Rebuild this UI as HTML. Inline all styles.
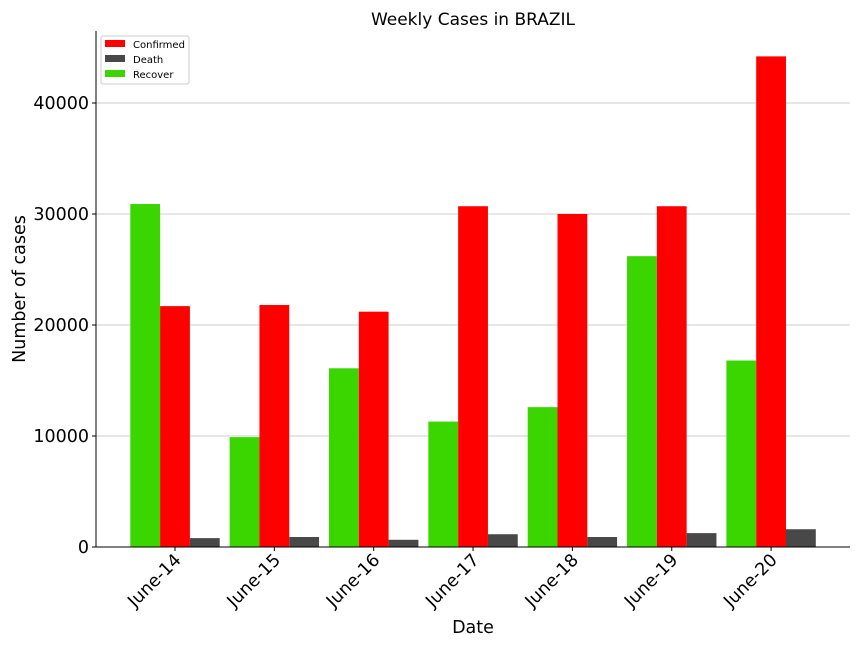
<!DOCTYPE html>
<html><head><meta charset="utf-8"><style>
body{margin:0;background:#fff;font-family:"Liberation Sans","DejaVu Sans",sans-serif}
svg text{font-family:"DejaVu Sans","Liberation Sans",sans-serif}
</style></head><body>
<svg id="chart" width="864" height="648" xmlns="http://www.w3.org/2000/svg">
<rect width="864" height="648" fill="#fff"/>
<text x="473" y="25" font-size="17" text-anchor="middle" fill="#000">Weekly Cases in BRAZIL</text>
<g id="grid"></g><g id="bars"></g><g id="axes"></g>
<text x="473" y="633" font-size="17.5" text-anchor="middle">Date</text>
<text transform="translate(25,289) rotate(-90)" font-size="17.5" text-anchor="middle">Number of cases</text>
<g>
<rect x="101" y="36" width="88" height="48" rx="2" fill="#fff" stroke="#ccc"/>
<rect x="105" y="40" width="20" height="7" fill="#ff0000"/>
<text x="133" y="48" font-size="10">Confirmed</text>
<rect x="105" y="55" width="20" height="7" fill="#484848"/>
<text x="133" y="63" font-size="10">Death</text>
<rect x="105" y="70" width="20" height="7" fill="#3bd600"/>
<text x="133" y="78" font-size="10">Recover</text>
</g>
</svg>
<script>
const categories=["June-14","June-15","June-16","June-17","June-18","June-19","June-20"];
const recover=[30900,9900,16100,11300,12600,26200,16800];
const confirmed=[21700,21800,21200,30700,30000,30700,44200];
const death=[800,900,650,1150,900,1250,1600];
const yTicks=[0,10000,20000,30000,40000];
const NS="http://www.w3.org/2000/svg";
const L=96,R=850,T=31,B=547;
function y(v){return B-v*(B-436)/10000;}
function xc(i){return 175+i*99.35;}
const bw=29.8;
function mk(tag,attrs,parent){const e=document.createElementNS(NS,tag);for(const k in attrs)e.setAttribute(k,attrs[k]);parent.appendChild(e);return e;}
const grid=document.getElementById('grid'),bars=document.getElementById('bars'),axes=document.getElementById('axes');
yTicks.forEach(t=>{
  if(t>0){const g=mk('line',{x1:L,x2:R,y1:y(t),y2:y(t),stroke:'#cccccc','stroke-width':1},grid);
  
  }
  mk('line',{x1:L-4,x2:L,y1:y(t),y2:y(t),stroke:'#000'},axes);
  const tx=mk('text',{x:L-7,y:y(t)+6,'font-size':17.5,'text-anchor':'end'},axes);
  tx.textContent=t;
  
  
});
const series=[[recover,'#3bd600','recover',-1.5],[confirmed,'#ff0000','confirmed',-0.5],[death,'#484848','death',0.5]];
categories.forEach((c,i)=>{
  series.forEach(([arr,col,nm,off])=>{
    const r=mk('rect',{x:xc(i)+off*bw,y:y(arr[i]),width:bw,height:B-y(arr[i]),fill:col},bars);
    
    
  });
  mk('line',{x1:xc(i),x2:xc(i),y1:B,y2:B+4,stroke:'#000'},axes);
  const t=mk('text',{'font-size':17.5,'text-anchor':'end',transform:`translate(${xc(i)+7},${B+14}) rotate(-45)`},axes);
  t.textContent=c;
  
  
});
const ya=mk('line',{x1:L,x2:L,y1:T,y2:B,stroke:'#000'},axes);


const xa=mk('line',{x1:L,x2:R,y1:B,y2:B,stroke:'#000'},axes);


</script>
</body></html>
